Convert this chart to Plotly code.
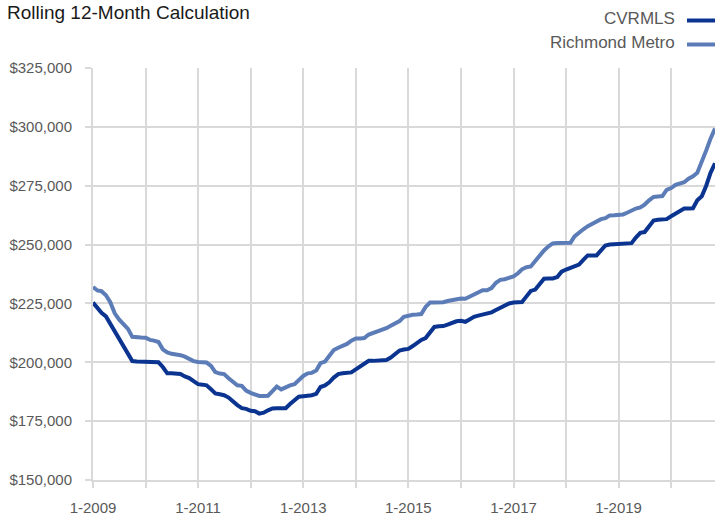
import pandas as pd
import plotly.graph_objects as go

# ---- data (monthly, rolling 12-month median price, Jan 2009 - Nov 2020) ----
cvrmls = [
    225.4, 223.0, 221.0, 219.5, 216.5, 213.0, 210.0, 206.5, 204.0, 200.5, 200.3, 200.3,
    200.3, 200.3, 200.2, 200.0, 198.0, 195.3, 195.3, 195.2, 195.0, 194.0, 193.3, 192.0,
    190.7, 190.5, 190.2, 188.5, 186.8, 186.4, 186.0, 185.0, 183.2, 181.8, 180.5, 180.2,
    179.4, 179.2, 178.2, 178.6, 179.6, 180.4, 180.5, 180.5, 180.5, 182.3, 184.0, 185.4,
    185.6, 185.7, 186.0, 186.6, 189.5, 190.2, 191.5, 193.5, 195.0, 195.3, 195.5, 195.7,
    197.0, 198.2, 199.5, 200.6, 200.6, 200.6, 200.6, 201.0, 202.0, 203.5, 205.0, 205.4,
    205.7, 206.9, 208.2, 209.5, 210.3, 212.5, 215.0, 215.3, 215.4, 216.0, 216.8, 217.4,
    217.6, 217.2, 218.2, 219.3, 219.8, 220.3, 220.5, 221.2, 222.2, 223.2, 224.2, 225.0,
    225.4, 225.4, 225.6, 228.0, 230.3, 230.9, 233.5, 235.5, 235.6, 235.6, 236.2, 238.5,
    239.4, 240.0, 240.5, 241.5, 243.5, 245.4, 245.4, 245.4, 247.5, 249.6, 250.0, 250.2,
    250.2, 250.3, 250.4, 250.6, 253.0, 255.0, 255.3, 257.5, 260.2, 260.5, 260.6, 260.8,
    262.0, 263.3, 264.5, 265.3, 265.3, 265.4, 268.8, 270.5, 275.0, 280.5, 284.5,
]
richmond_metro = [
    232.0, 230.5, 230.2, 228.5, 225.5, 220.8, 218.2, 216.0, 214.2, 210.8, 210.5, 210.5,
    210.4, 209.5, 209.2, 208.6, 205.5, 204.2, 203.6, 203.5, 203.0, 202.4, 201.5, 200.5,
    200.1, 200.0, 199.9, 198.5, 195.8, 195.2, 195.0, 193.2, 191.5, 190.2, 190.0, 188.0,
    187.0, 186.2, 185.7, 185.7, 185.8, 187.8, 189.7, 188.5, 189.5, 190.2, 190.7, 192.5,
    194.2, 195.3, 195.5, 196.5, 199.6, 200.3, 202.5, 205.2, 206.2, 206.8, 207.8, 209.2,
    210.1, 210.1, 210.3, 211.8, 212.4, 213.0, 213.6, 214.5, 215.5, 216.3, 217.5, 219.3,
    219.8, 220.2, 220.3, 220.5, 223.5, 225.4, 225.4, 225.4, 225.5, 226.0, 226.4, 226.8,
    227.1, 227.0, 227.8, 228.5, 229.5, 230.6, 230.6, 231.5, 233.8, 235.0, 235.3, 235.7,
    236.5, 237.8, 239.5, 240.4, 240.7, 243.0, 245.5, 247.5, 249.3, 250.5, 250.7, 250.7,
    250.6, 250.8, 253.5, 255.2, 256.5, 257.8, 258.8, 260.0, 260.8, 261.2, 262.4, 262.5,
    262.5, 262.8, 263.5, 264.5, 265.3, 265.8, 267.0, 268.8, 270.2, 270.4, 270.6, 273.2,
    274.0, 275.4, 275.8, 276.5, 278.0, 279.0, 280.5, 285.0, 290.0, 295.0, 299.3,
]
months = pd.date_range("2009-01-01", periods=len(cvrmls), freq="MS")

year_ticks = pd.date_range("2009-01-01", "2020-01-01", freq="YS")
year_tick_labels = ["1-2009", "", "1-2011", "", "1-2013", "", "1-2015", "", "1-2017", "", "1-2019", ""]
y_ticks = [150000, 175000, 200000, 225000, 250000, 275000, 300000, 325000]

series_names = ["CVRMLS", "Richmond Metro"]
series_colors = ["#0b3490", "#5c7cb8"]

FONT = "Liberation Sans, Arial, sans-serif"
GRID = "#d9d9d9"
TEXT = "#595959"

fig = go.Figure()
for name, vals, col in zip(series_names, [cvrmls, richmond_metro], series_colors):
    fig.add_trace(go.Scatter(
        x=months, y=[v * 1000 for v in vals], mode="lines", name=name,
        line=dict(color=col, width=4), showlegend=False,
    ))

W, H = 715, 515
ML, MR, MT, MB = 93, 0, 68, 35
PW, PH = W - ML - MR, H - MT - MB

def px_x(px):
    return (px - ML) / PW

def px_y(py):
    return (H - MB - py) / PH

# legend (text left of the line sample, as in the reference)
legend_rows = [19, 43]
for name, col, py in zip(series_names, series_colors, legend_rows):
    fig.add_annotation(
        x=px_x(677), y=px_y(py), xref="paper", yref="paper",
        text=name, showarrow=False, xanchor="right", yanchor="middle",
        font=dict(family=FONT, size=17, color=TEXT),
    )
    fig.add_shape(
        type="line", xref="paper", yref="paper",
        x0=px_x(687), x1=px_x(716), y0=px_y(py + 1.5), y1=px_y(py + 1.5),
        line=dict(color=col, width=4),
    )

fig.update_layout(
    width=W, height=H,
    margin=dict(l=ML, r=MR, t=MT, b=MB, pad=0),
    paper_bgcolor="white", plot_bgcolor="white",
    title=dict(
        text="Rolling 12-Month Calculation",
        x=7 / W, xanchor="left", xref="container",
        y=1 - 12 / H, yanchor="middle", yref="container",
        font=dict(family=FONT, size=19, color="#1a1a1a"),
    ),
    font=dict(family=FONT, size=15, color=TEXT),
)
fig.update_xaxes(
    range=[months[0], months[-1]],
    tickmode="array", tickvals=list(year_ticks), ticktext=year_tick_labels,
    showgrid=True, gridcolor=GRID, gridwidth=2,
    showline=True, linecolor=GRID, linewidth=2,
    ticks="outside", ticklen=6, tickwidth=2, tickcolor=GRID,
    tickfont=dict(family=FONT, size=15, color=TEXT),
    ticklabelstandoff=7,
    zeroline=False,
)
fig.update_yaxes(
    range=[150000, 325000],
    tickmode="array", tickvals=y_ticks,
    tickformat="$,.0f",
    showgrid=True, gridcolor=GRID, gridwidth=2,
    showline=True, linecolor=GRID, linewidth=2,
    ticks="outside", ticklen=6, tickwidth=2, tickcolor=GRID,
    tickfont=dict(family=FONT, size=15, color=TEXT),
    ticklabelstandoff=10,
    zeroline=False,
)

fig.write_html(
    "out.html",
    config={"displayModeBar": False},
    post_script="document.body.style.margin='0';document.body.style.padding='0';"
                "document.body.style.overflow='hidden';",
)
